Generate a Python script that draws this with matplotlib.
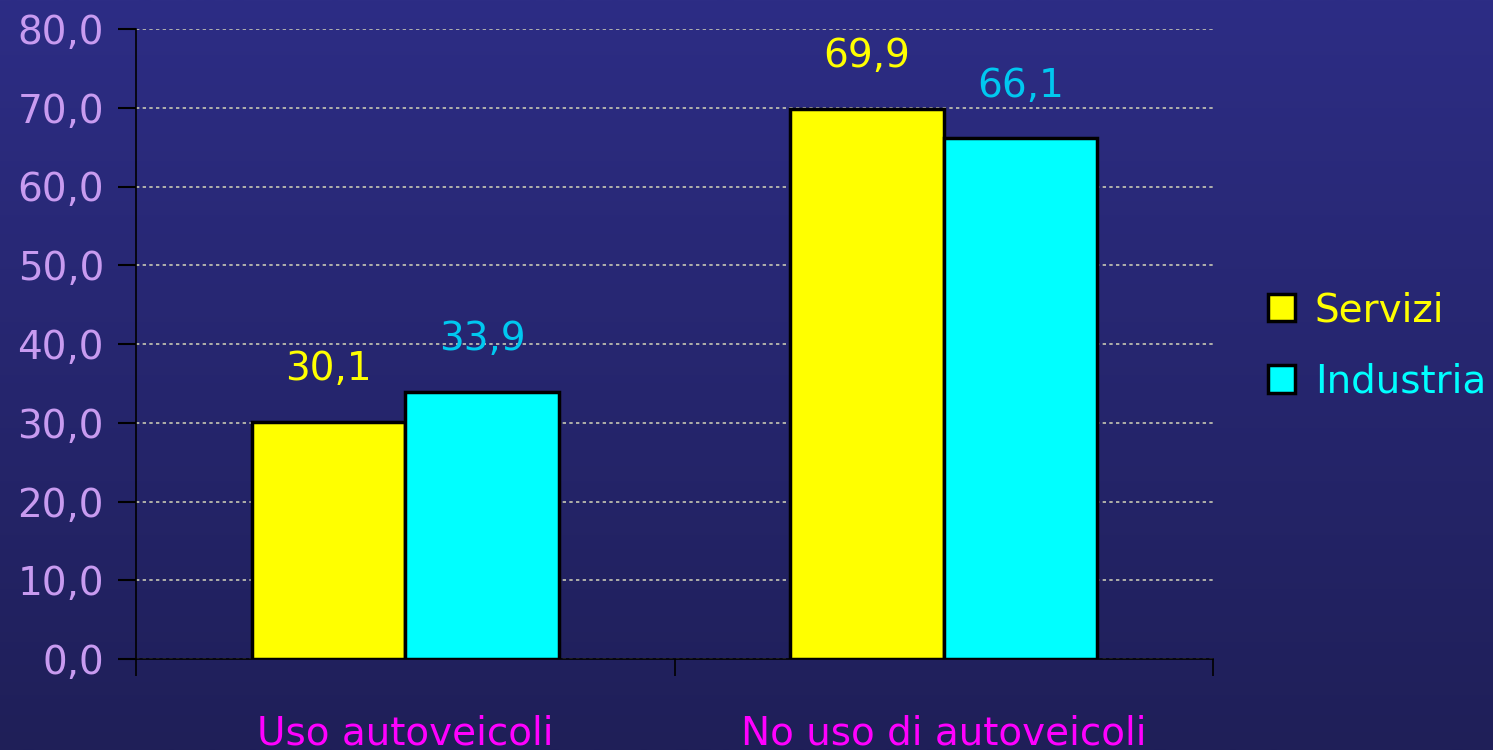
import numpy as np
import matplotlib
matplotlib.use("Agg")
import matplotlib.pyplot as plt
from matplotlib.patches import Patch

# Data
categories = ["Uso autoveicoli", "No uso di autoveicoli"]
servizi = [30.1, 69.9]
industria = [33.9, 66.1]
series_names = ["Servizi", "Industria"]
yticks = [0, 10, 20, 30, 40, 50, 60, 70, 80]

bar_fill = ["#ffff00", "#00ffff"]
label_col = ["#ffff00", "#00c8f0"]
legend_text_col = ["#ffff00", "#00ffff"]

plt.rcParams['font.family'] = ['DejaVu Sans']
fs = 28

fig = plt.figure(figsize=(14.93, 7.5), dpi=100)

# Gradient background
bg = fig.add_axes([0, 0, 1, 1], zorder=-10)
grad = np.linspace(0, 1, 256).reshape(-1, 1)
top = np.array([0x2d, 0x2d, 0x85]) / 255
bot = np.array([0x1f, 0x1f, 0x58]) / 255
img = top + (bot - top) * grad[:, :, None]
bg.imshow(img, aspect='auto', extent=[0, 1, 0, 1])
bg.axis('off')

ax = fig.add_axes([136 / 1493, 1 - 659 / 750, (1213 - 136) / 1493, 630 / 750])
ax.patch.set_alpha(0)

x = np.arange(len(categories)) + 0.5
w = 0.285
bars1 = ax.bar(x - w / 2, servizi, w, color=bar_fill[0], edgecolor='black', linewidth=2.5, zorder=3)
bars2 = ax.bar(x + w / 2, industria, w, color=bar_fill[1], edgecolor='black', linewidth=2.5, zorder=3)

for bars, vals, c in [(bars1, servizi, label_col[0]), (bars2, industria, label_col[1])]:
    for b, v in zip(bars, vals):
        ax.annotate(f"{v:.1f}".replace('.', ','), (b.get_x() + b.get_width() / 2, v),
                    xytext=(0, 30), textcoords='offset points', ha='center', va='baseline',
                    fontsize=fs, color=c)

ax.set_xlim(0, 2)
ax.set_ylim(0, 80)
ax.set_yticks(yticks)
ax.set_yticklabels([f"{t:.1f}".replace('.', ',') for t in yticks], fontsize=fs, color='#c89bf0')
ax.set_xticks([0, 1, 2])
ax.set_xticklabels([])
ax.tick_params(axis='y', length=13, width=1.5, color='black', pad=10)
ax.tick_params(axis='x', length=12, width=1.2, color='black', direction='out')
ax.grid(axis='y', color='#c8c8b4', linestyle=(0, (2, 2)), linewidth=1.2, zorder=0)

for i, cat in enumerate(categories):
    ax.text(x[i], -9.5, cat, ha='center', va='center', fontsize=fs, color='#ff00ff')

for s in ['top', 'right']:
    ax.spines[s].set_visible(False)
ax.spines['left'].set_color('black')
ax.spines['bottom'].set_color('black')
ax.spines['left'].set_linewidth(1.2)
ax.spines['bottom'].set_linewidth(1.2)

handles = [Patch(facecolor=bar_fill[i], edgecolor='black', linewidth=2.5) for i in range(2)]
leg = fig.legend(handles, series_names, loc='center left', bbox_to_anchor=(1233 / 1493, 1 - 346 / 750),
                 frameon=False, fontsize=fs, handlelength=0.7, handleheight=0.7,
                 handletextpad=0.5, labelspacing=0.85)
for t, c in zip(leg.get_texts(), legend_text_col):
    t.set_color(c)

fig.savefig("out.png", dpi=100)
